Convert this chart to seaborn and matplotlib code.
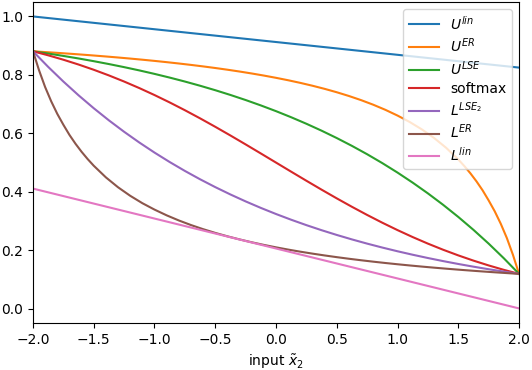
import matplotlib
matplotlib.use("Agg")
import matplotlib.pyplot as plt
import seaborn as sns
import pandas as pd

# x grids (sample positions read along the horizontal axis)
x_lin = [-2.0, 2.0]
x_er = [-2.0, -1.95, -1.9, -1.85, -1.8, -1.75, -1.7, -1.65, -1.6, -1.55, -1.5,
        -1.4, -1.3, -1.2, -1.1, -1.0, -0.9, -0.8, -0.7, -0.6, -0.5, -0.4, -0.3,
        -0.2, -0.1, 0.0, 0.1, 0.2, 0.3, 0.4, 0.5, 0.6, 0.7, 0.8, 0.9, 1.0, 1.1,
        1.2, 1.3, 1.4,
        1.5, 1.55, 1.6, 1.65, 1.7, 1.75, 1.8, 1.85, 1.9, 1.95, 2.0]
x_s = [-2.0, -1.875, -1.75, -1.625, -1.5, -1.375, -1.25, -1.125, -1.0, -0.875,
       -0.75, -0.625, -0.5, -0.375, -0.25, -0.125, 0.0, 0.125, 0.25, 0.375, 0.5,
       0.625, 0.75, 0.875, 1.0, 1.125, 1.25, 1.375, 1.5, 1.625, 1.75, 1.875, 2.0]

# series values
u_lin = [1.0, 0.825]
u_er = [0.88080, 0.87949, 0.87816, 0.87680, 0.87541, 0.87399, 0.87253, 0.87104,
        0.86951, 0.86795, 0.86635, 0.86303, 0.85954, 0.85587, 0.85200, 0.84792,
        0.84361, 0.83904, 0.83421, 0.82907, 0.82360, 0.81777, 0.81154, 0.80487,
        0.79772, 0.79001, 0.78170, 0.77270, 0.76293, 0.75228, 0.74063, 0.72783,
        0.71370, 0.69802, 0.68052, 0.66088, 0.63892, 0.61361, 0.58450, 0.55064,
        0.51078, 0.48807, 0.46314, 0.43568, 0.40525, 0.37055, 0.33334, 0.29045,
        0.24166, 0.18434, 0.11920]
u_lse = [0.88080, 0.87311, 0.86492, 0.85621, 0.84694, 0.83707, 0.82656, 0.81537,
         0.80347, 0.79079, 0.77730, 0.76293, 0.74764, 0.73137, 0.71405, 0.69560,
         0.67597, 0.65507, 0.63283, 0.60915, 0.58394, 0.55711, 0.52854, 0.49813,
         0.46577, 0.43131, 0.39463, 0.35559, 0.31403, 0.26979, 0.22270, 0.17256,
         0.11920]
softmax = [0.88080, 0.86704, 0.85195, 0.83548, 0.81757, 0.79819, 0.77730, 0.75492,
           0.73106, 0.70579, 0.67918, 0.65135, 0.62246, 0.59267, 0.56218, 0.53121,
           0.50000, 0.46879, 0.43782, 0.40733, 0.37754, 0.34865, 0.32082, 0.29421,
           0.26894, 0.24508, 0.22270, 0.20181, 0.18243, 0.16452, 0.14805, 0.13296,
           0.11920]
l_lse2 = [0.88080, 0.82744, 0.77730, 0.73021, 0.68597, 0.64441, 0.60537, 0.56869,
          0.53423, 0.50187, 0.47146, 0.44289, 0.41606, 0.39085, 0.36717, 0.34493,
          0.32403, 0.30440, 0.28595, 0.26863, 0.25236, 0.23707, 0.22270, 0.20921,
          0.19653, 0.18463, 0.17344, 0.16293, 0.15306, 0.14379, 0.13508, 0.12689,
          0.11920]
l_er = [0.88080, 0.81566, 0.75834, 0.70955, 0.66666, 0.62945, 0.59475, 0.56432,
        0.53686, 0.51193, 0.48922, 0.44936, 0.41550, 0.38639, 0.36108, 0.33912,
        0.31948, 0.30198, 0.28630, 0.27217, 0.25937, 0.24772, 0.23707, 0.22730,
        0.21830, 0.20999, 0.20228, 0.19513, 0.18846, 0.18223, 0.17640, 0.17093,
        0.16579, 0.16096, 0.15639, 0.15208, 0.14800, 0.14413, 0.14046, 0.13697,
        0.13365, 0.13205, 0.13049, 0.12896, 0.12747, 0.12601, 0.12459, 0.12320,
        0.12184, 0.12051, 0.11920]
l_lin = [0.411, 0.001]

labels = [r"$U^{lin}$", r"$U^{ER}$", r"$U^{LSE}$", "softmax",
          r"$L^{LSE_2}$", r"$L^{ER}$", r"$L^{lin}$"]
colors = ["#1f77b4", "#ff7f0e", "#2ca02c", "#d62728", "#9467bd", "#8c564b", "#e377c2"]

series = [(x_lin, u_lin), (x_er, u_er), (x_s, u_lse), (x_s, softmax),
          (x_s, l_lse2), (x_er, l_er), (x_lin, l_lin)]

fig = plt.figure(figsize=(5.32, 3.70), dpi=100)
ax = fig.add_axes([0.062, 0.127, 0.9136, 0.868])

for (xs, ys), lab, col in zip(series, labels, colors):
    df = pd.DataFrame({"x": xs, "y": ys})
    sns.lineplot(data=df, x="x", y="y", ax=ax, label=lab, color=col, linewidth=1.5)

ax.set_xlim(-2, 2)
ax.set_xlabel(r"input $\tilde{x}_2$")
ax.set_ylabel("")
ax.legend(loc="upper right", labelspacing=0.3, handlelength=2.2)

fig.savefig("out.png", dpi=100)
